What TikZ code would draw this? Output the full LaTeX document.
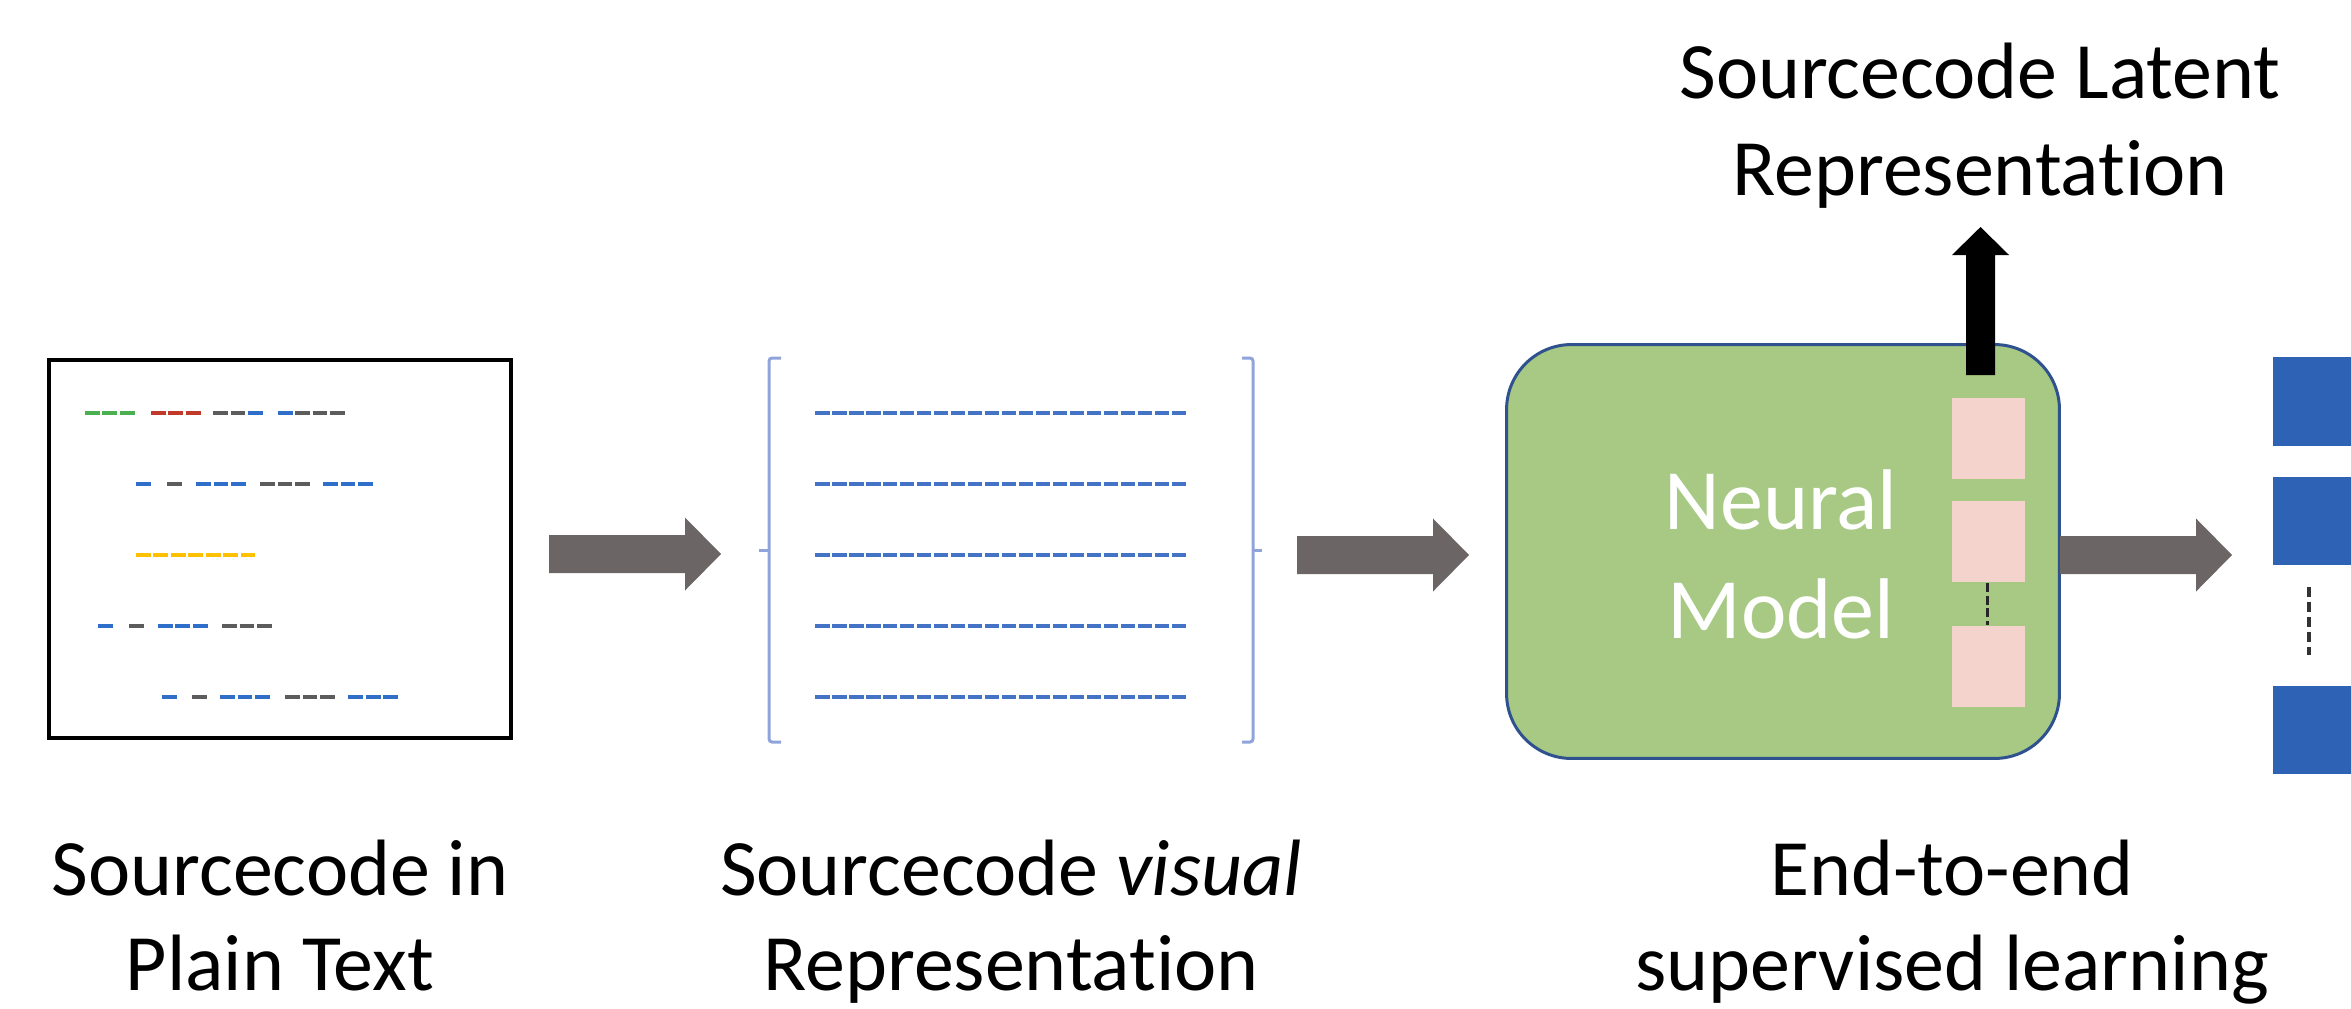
\documentclass[tikz,border=0pt]{standalone}
\usepackage{fontspec}
\setmainfont{Carlito}[Ligatures=NoCommon]
\definecolor{cgreen}{RGB}{76,175,80}
\definecolor{cred}{RGB}{192,57,43}
\definecolor{cgray}{RGB}{92,92,92}
\definecolor{cblue}{RGB}{47,111,201}
\definecolor{cyellow}{RGB}{255,192,0}
\definecolor{visblue}{RGB}{68,114,196}
\definecolor{brkblue}{RGB}{143,164,219}
\definecolor{arrgray}{RGB}{107,102,101}
\definecolor{modelfill}{RGB}{167,201,132}
\definecolor{modeldraw}{RGB}{47,82,143}
\definecolor{pinkc}{RGB}{244,211,205}
\definecolor{sqblue}{RGB}{46,98,181}
\begin{document}
\begin{tikzpicture}[x=0.02cm,y=-0.02cm,
  lbl/.style={anchor=base, inner sep=0pt, font=\fontsize{45.5}{55}\selectfont},
  codeline/.style={line width=0.08cm, dash pattern=on 0.3cm off 0.05cm},
  visline/.style={line width=0.08cm, dash pattern=on 0.29cm off 0.05cm, color=visblue},
  brk/.style={line width=0.06cm, color=brkblue, rounded corners=0.06cm},
  pinkbox/.style={fill=pinkc, minimum width=1.46cm, minimum height=1.62cm, inner sep=0pt},
  bluebox/.style={fill=sqblue, minimum width=1.78cm, minimum height=1.77cm, inner sep=0pt},
  blockarr/.pic={\fill[arrgray] (0,-19) -- (136,-19) -- (136,-36.5) -- (172,0) -- (136,36.5) -- (136,19) -- (0,19) -- cycle;}
]
\useasboundingbox (0,0) rectangle (2351,1008);

% Source code box
\node[draw=black, line width=0.08cm, minimum width=9.24cm, minimum height=7.56cm, inner sep=0pt] (src) at (280,549) {};
% row 1
\draw[codeline, cgreen] (85,413) -- (136,413);
\draw[codeline, cred] (151,413) -- (201,413);
\draw[codeline, cgray] (213,413) -- (248,413);
\draw[codeline, cblue] (248,413) -- (263,413);
\draw[codeline, cblue] (278,413) -- (295,413);
\draw[codeline, cgray] (295,413) -- (345,413);
% row 2
\draw[codeline, cblue] (136,484) -- (153,484);
\draw[codeline, cgray] (167,484) -- (183,484);
\draw[codeline, cblue] (196,484) -- (247,484);
\draw[codeline, cgray] (260,484) -- (310,484);
\draw[codeline, cblue] (323,484) -- (374,484);
% row 3
\draw[codeline, cyellow] (136,555) -- (255,555);
% row 4
\draw[codeline, cblue] (98,626) -- (115,626);
\draw[codeline, cgray] (129,626) -- (145,626);
\draw[codeline, cblue] (158,626) -- (208,626);
\draw[codeline, cgray] (222,626) -- (273,626);
% row 5
\draw[codeline, cblue] (162,697) -- (178,697);
\draw[codeline, cgray] (192,697) -- (208,697);
\draw[codeline, cblue] (220,697) -- (271,697);
\draw[codeline, cgray] (285,697) -- (335,697);
\draw[codeline, cblue] (348,697) -- (398,697);

% Visual representation (matrix with brackets)
\coordinate (visL) at (769,550);
\coordinate (visR) at (1253,550);
\draw[brk] (781,358) -- (769,358) -- (769,742) -- (781,742);
\draw[brk] (759,550) -- (visL);
\draw[brk] (1242,358) -- (1253,358) -- (1253,742) -- (1242,742);
\draw[brk] (visR) -- (1262,550);
\foreach \yy in {413,484,555,626,697}{
  \draw[visline] (815,\yy) -- (1188,\yy);
}

% Block arrows
\pic at (549,554) {blockarr};
\pic at (1297,555) {blockarr};

% Neural model
\node[draw=modeldraw, fill=modelfill, line width=0.06cm, rounded corners=1.3cm,
      minimum width=11.06cm, minimum height=8.28cm, inner sep=0pt] (model) at (1783,551.5) {};
\node[lbl, text=white, font=\fontsize{49}{60}\selectfont] (nm1) at (1781,529) {Neural};
\node[lbl, text=white, font=\fontsize{49}{60}\selectfont] (nm2) at (1781,638) {Model};
\node[pinkbox] (p1) at (1988.5,438.5) {};
\node[pinkbox] (p2) at (1988.5,541) {};
\node[pinkbox] (p3) at (1988.5,666.5) {};
\draw[line width=0.06cm, dash pattern=on 0.18cm off 0.07cm, black!85] (1987,583) -- (1987,625);

% Latent representation arrow
\coordinate (latbase) at (1980.5,375);
\fill[black] (1966,375) -- (1966,255) -- (1952,255) -- (1980.5,227) -- (2009,255) -- (1995,255) -- (1995,375) -- cycle;
\node[lbl] (lat1) at (1980,98) {Sourcecode Latent};
\node[lbl] (lat2) at (1980,195) {Representation};

% Output arrow and output vector
\pic at (2060,555) {blockarr};
\node[bluebox] (b1) at (2317.5,401.5) {};
\node[bluebox] (b2) at (2317.5,521) {};
\node[bluebox] (b3) at (2317.5,730) {};
\draw[line width=0.08cm, dash pattern=on 0.2cm off 0.1cm, black!80] (2309,587) -- (2309,655);

% Bottom labels
\node[lbl] (l1a) at (280,895) {Sourcecode in};
\node[lbl] (l1b) at (280,990) {Plain Text};
\node[lbl] (l2a) at (1011,895) {Sourcecode \textit{visual}};
\node[lbl] (l2b) at (1011,990) {Representation};
\node[lbl] (l3a) at (1952,895) {End-to-end};
\node[lbl] (l3b) at (1952,990) {supervised learning};
\end{tikzpicture}
\end{document}
